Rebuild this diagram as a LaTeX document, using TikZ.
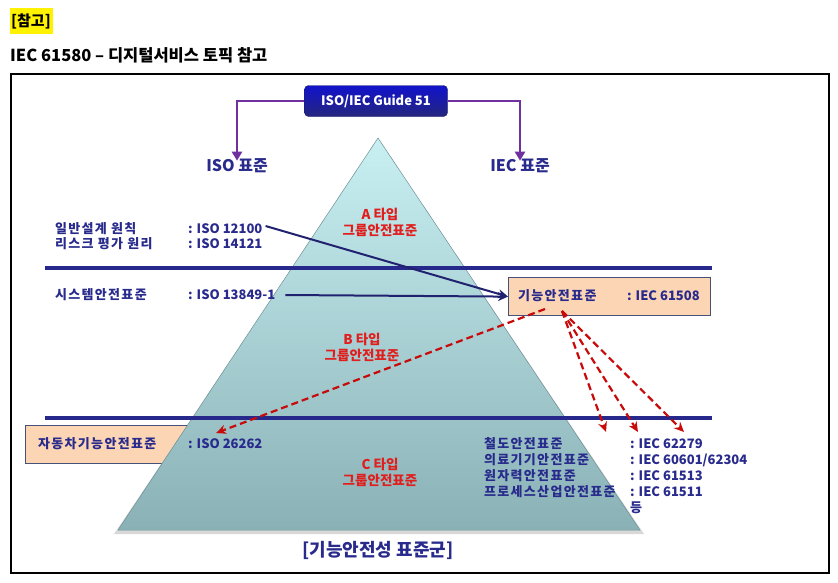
\documentclass[tikz,border=0pt]{standalone}
\usepackage{fontspec}
\setmainfont{Noto Sans CJK KR}
\usetikzlibrary{arrows.meta,shadows}
\definecolor{navy}{RGB}{40,42,140}
\definecolor{barblue}{RGB}{38,40,140}
\definecolor{peach}{RGB}{252,213,181}
\definecolor{boxedge}{RGB}{70,80,120}
\definecolor{redlbl}{RGB}{225,30,30}
\definecolor{reddash}{RGB}{200,10,10}
\definecolor{purp}{RGB}{112,48,160}
\definecolor{pyrtop}{RGB}{200,240,243}
\definecolor{pyrbot}{RGB}{138,178,182}
\begin{document}
\begin{tikzpicture}[x=1pt,y=-1pt,
  lbl/.style={anchor=west,inner sep=0pt,font=\fontsize{13}{15}\selectfont\bfseries,text=navy},
  krlbl/.style={lbl,font=\fontsize{13}{15}\selectfont\bfseries\addfontfeature{LetterSpace=10}},
  redlbl/.style={align=center,inner sep=0pt,font=\fontsize{13.5}{16}\selectfont\bfseries,text=redlbl},
  bar/.style={draw=barblue,line width=4pt},
  navyarrow/.style={draw=navy!80!black,line width=2pt,-{Stealth[length=10pt,width=9pt]}},
  redarrow/.style={draw=reddash,line width=2.2pt,dash pattern=on 7pt off 4pt,-{Stealth[length=10pt,width=9pt]}},
  purparrow/.style={draw=purp,line width=2.5pt,-{Triangle[length=9pt,width=10pt]}},
  peachbox/.style={draw=boxedge,line width=1.2pt,fill=peach,minimum height=38pt,anchor=north west},
  stdhead/.style={font=\fontsize{16}{18}\selectfont\bfseries,text=navy,inner sep=1pt}
]
\useasboundingbox (0,0) rectangle (838,582);
% header
\fill[yellow] (10,8) rectangle (53,34);
\node[anchor=west,inner sep=0pt,font=\fontsize{15}{17}\selectfont\bfseries] (ref) at (11,21) {[참고]};
\node[anchor=west,inner sep=0pt,font=\fontsize{16.5}{18}\selectfont\bfseries] (title) at (10,55) {IEC 61580 – 디지털서비스 토픽 참고};
% frame
\draw[line width=1.2pt] (11,74) rectangle (829,573);

% side boxes (under the pyramid)
\node[peachbox,minimum width=166pt] (carbox) at (25,425) {};
\node[krlbl] (cartxt) at (38,444) {자동차기능안전표준};

% pyramid with shadow
\fill[black!30,opacity=0.5] (379,141) -- (644,534) -- (114,534) -- cycle;
\shade[top color=pyrtop,bottom color=pyrbot,draw=pyrbot!80!black,line width=0.5pt] (378,138) -- (640,530) -- (118,530) -- cycle;

% bars
\draw[bar] (45,268) -- (712,268);
\draw[bar] (45,418) -- (712,418);

% Guide 51
\node[rounded corners=4pt,top color=blue!55!navy,bottom color=navy!90!black,draw=navy!70!black,
      minimum width=143pt,minimum height=31pt,text=white,font=\fontsize{13}{15}\selectfont\bfseries] (guide) at (376,101) {ISO/IEC Guide 51};
\node[stdhead] (isohead) at (237,166) {ISO 표준};
\node[stdhead] (iechead) at (520,166) {IEC 표준};
\draw[purparrow] (guide.west) -| ([yshift=-3pt]isohead.north);
\draw[purparrow] (guide.east) -| ([yshift=-3pt]iechead.north);

% pyramid labels
\node[redlbl] (ta) at (380,222) {A 타입\\그룹안전표준};
\node[redlbl] (tb) at (362,347) {B 타입\\그룹안전표준};
\node[redlbl] (tc) at (380,472) {C 타입\\그룹안전표준};

% left texts
\node[krlbl] (l1) at (55,229) {일반설계 원칙};
\node[krlbl] (l2) at (55,244) {리스크 평가 원리};
\node[lbl] (i1) at (188,229) {: ISO 12100};
\node[lbl] (i2) at (188,244) {: ISO 14121};
\node[krlbl] (l3) at (55,295) {시스템안전표준};
\node[lbl] (i3) at (188,295) {: ISO 13849-1};
\node[lbl] (i4) at (188,444) {: ISO 26262};

% IEC 61508 box
\node[peachbox,minimum width=202pt] (fbox) at (508,277) {};
\node[krlbl] (ftxt) at (518,296) {기능안전표준};
\node[lbl] (fiec) at (627,296) {: IEC 61508};
\coordinate (fin) at (fbox.west);

% navy arrows
\draw[navyarrow] ([xshift=3pt,yshift=3pt]i1.east) -- (fin);
\draw[navyarrow] ([xshift=10pt]i3.east) -- (fin);

% right list
\node[krlbl] (r1) at (484,444) {철도안전표준};
\node[krlbl] (r2) at (484,460) {의료기기안전표준};
\node[krlbl] (r3) at (484,476) {원자력안전표준};
\node[krlbl] (r4) at (484,492) {프로세스산업안전표준};
\node[lbl] (e1) at (630,444) {: IEC 62279};
\node[lbl] (e2) at (630,460) {: IEC 60601/62304};
\node[lbl] (e3) at (630,476) {: IEC 61513};
\node[lbl] (e4) at (630,492) {: IEC 61511};
\node[krlbl] (e5) at (630,508) {등};

% red dashed arrows
\coordinate (rs1) at (545,309);
\coordinate (rs2) at (562,311);
\coordinate (rt1) at (216,433);
\coordinate (rt2) at (606,432);
\coordinate (rt3) at (638,432);
\coordinate (rt4) at (684,432);
\draw[redarrow] (rs1) -- (rt1);
\draw[redarrow] (rs2) -- (rt2);
\draw[redarrow] (rs2) -- (rt3);
\draw[redarrow] (rs2) -- (rt4);

% caption
\node[font=\fontsize{18}{20}\selectfont\bfseries,text=navy] (cap) at (378,550) {[기능안전성 표준군]};
\end{tikzpicture}
\end{document}
